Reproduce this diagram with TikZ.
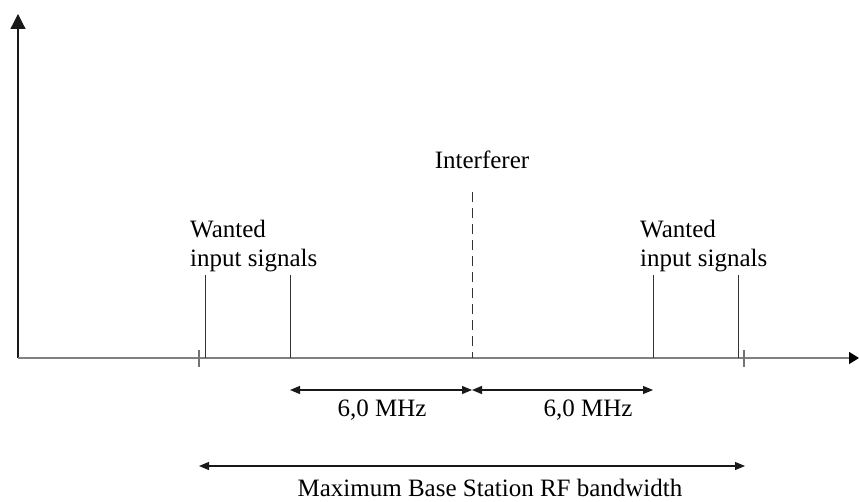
\documentclass[tikz,border=0pt]{standalone}
\usepackage{fontspec}
\setmainfont{Liberation Serif}
\usetikzlibrary{arrows.meta}
\begin{document}
\begin{tikzpicture}[x=1pt,y=-1pt,
  lbl/.style={inner sep=0pt,font=\fontsize{25}{29}\selectfont,text=black},
  axisline/.style={draw=black!50,line width=1.4pt},
  yaxisline/.style={draw=black!90,line width=1.2pt},
  sigline/.style={draw=black!80,line width=0.9pt},
  tickline/.style={draw=black!55,line width=1.2pt},
  dimarrow/.style={draw=black!90,line width=1.1pt,{Triangle[length=10pt,width=8pt]}-{Triangle[length=10pt,width=8pt]}},
  bigtip/.style={-{Triangle[length=15pt,width=15pt]}}]
\useasboundingbox (0,0) rectangle (859,502);
% axes
\coordinate (o) at (18,358);
\coordinate (ytop) at (18,14);
\coordinate (xend) at (859,358);
\draw[yaxisline,bigtip] (o) -- (ytop);
\draw[axisline,-{Triangle[length=10pt,width=12pt,color=black]}] (o) -- (xend);
% ticks
\coordinate (t1a) at (199,350); \coordinate (t1b) at (199,367);
\coordinate (t2a) at (744,350); \coordinate (t2b) at (744,367);
\draw[tickline] (t1a) -- (t1b);
\draw[tickline] (t2a) -- (t2b);
% wanted signals
\coordinate (s1t) at (205,275); \coordinate (s1b) at (205,358);
\coordinate (s2t) at (290,275); \coordinate (s2b) at (290,358);
\coordinate (s3t) at (653,275); \coordinate (s3b) at (653,358);
\coordinate (s4t) at (738,275); \coordinate (s4b) at (738,358);
\draw[sigline] (s1t) -- (s1b);
\draw[sigline] (s2t) -- (s2b);
\draw[sigline] (s3t) -- (s3b);
\draw[sigline] (s4t) -- (s4b);
% interferer
\coordinate (it) at (472,192); \coordinate (ib) at (472,358);
\draw[sigline,dash pattern=on 10pt off 6pt] (it) -- (ib);
% labels
\node[lbl,anchor=base] (interf) at (482,169) {Interferer};
\node[lbl,anchor=north west,align=left] (wantL) at (190,220) {Wanted\\input signals};
\node[lbl,anchor=north west,align=left] (wantR) at (640,220) {Wanted\\input signals};
% 6,0 MHz arrows
\coordinate (a1) at (290,390); \coordinate (a2) at (472,390); \coordinate (a3) at (653,390);
\draw[dimarrow] (a1) -- (a2);
\draw[dimarrow] (a2) -- (a3);
\node[lbl,anchor=base] (mhz1) at (382,416) {6,0 MHz};
\node[lbl,anchor=base] (mhz2) at (588,416) {6,0 MHz};
% max bandwidth
\coordinate (b1) at (199,466); \coordinate (b2) at (745,466);
\draw[dimarrow] (b1) -- (b2);
\node[lbl,anchor=base] (maxbw) at (490,496) {Maximum Base Station RF bandwidth};
\end{tikzpicture}
\end{document}
